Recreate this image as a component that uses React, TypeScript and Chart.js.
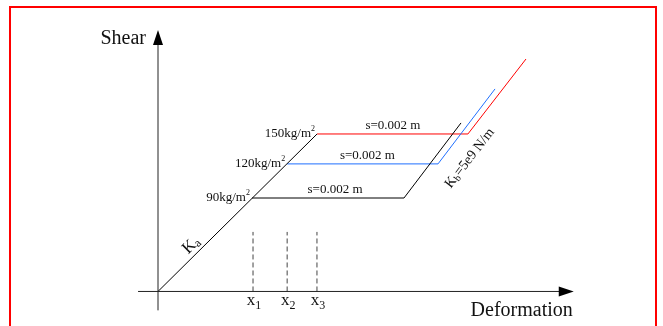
import React, { useEffect, useRef } from "react";
import { Chart, registerables } from "chart.js";

Chart.register(...registerables);

const FONT = '"Liberation Serif", "Times New Roman", serif';

// visible data window (same unit size on both axes)
const X_MIN = -150.5;
const X_MAX = 481;
const Y_MIN = -32.9;
const Y_MAX = 277.6;

// axes (start, arrow tip) in data units
const AXIS_X_EXTENT = [-19, 396];
const AXIS_Y_EXTENT = [-18, 249];
const AXIS_TITLES = ["Deformation", "Shear"];

// three surcharge cases
const SURCHARGE_VALUES = ["90", "120", "150"];
const SURCHARGE_UNIT = "kg/m";
const SERIES_COLORS = ["#000000", "#1f6fff", "#ff0000"];
const YIELD_X = [89.5, 123, 151.5];
const YIELD_Y = [89, 121.5, 150];
const SLIP_END_X = [234.3, 266.7, 295.2];
const RELOAD_END_X = [288.6, 321, 350.5];
const RELOAD_END_Y = [160.5, 192.9, 221.4];
const SLIP_LABELS = ["s=0.002 m", "s=0.002 m", "s=0.002 m"];
const SLIP_LABEL_X = [168.6, 199.5, 223.8];

// dashed markers on the deformation axis
const MARK_X = [90.5, 123, 151.4];
const MARK_TOP = 56.7;
const MARK_SUBS = ["1", "2", "3"];

const KA_LABEL_X = 38;
const KB_TEXT = "=5e9 N/m";

type Part = { t: string; size: number; dy: number };

function drawRich(
  ctx: CanvasRenderingContext2D,
  parts: Part[],
  x: number,
  y: number,
  align: "left" | "right" | "center"
) {
  ctx.textBaseline = "alphabetic";
  ctx.textAlign = "left";
  const widths = parts.map((p) => {
    ctx.font = `${p.size}px ${FONT}`;
    return ctx.measureText(p.t).width;
  });
  const total = widths.reduce((a, b) => a + b, 0);
  let cx = align === "left" ? x : align === "right" ? x - total : x - total / 2;
  parts.forEach((p, i) => {
    ctx.font = `${p.size}px ${FONT}`;
    ctx.fillText(p.t, cx, y + p.dy);
    cx += widths[i];
  });
}

const annotate = {
  id: "annotate",
  afterDatasetsDraw(chart: any) {
    const ctx: CanvasRenderingContext2D = chart.ctx;
    const xs = chart.scales.x;
    const ys = chart.scales.y;
    const px = (v: number) => xs.getPixelForValue(v);
    const py = (v: number) => ys.getPixelForValue(v);
    ctx.save();

    const ox = px(0);
    const oy = py(0);
    const tx = px(AXIS_X_EXTENT[1]);
    const ty = py(AXIS_Y_EXTENT[1]);

    // axes
    ctx.strokeStyle = "#222";
    ctx.lineWidth = 1;
    ctx.beginPath();
    ctx.moveTo(px(AXIS_X_EXTENT[0]), oy);
    ctx.lineTo(tx - 12, oy);
    ctx.moveTo(ox, py(AXIS_Y_EXTENT[0]));
    ctx.lineTo(ox, ty + 12);
    ctx.stroke();

    ctx.fillStyle = "#000";
    ctx.beginPath();
    ctx.moveTo(tx, oy);
    ctx.lineTo(tx - 15, oy - 5);
    ctx.lineTo(tx - 15, oy + 5);
    ctx.closePath();
    ctx.fill();
    ctx.beginPath();
    ctx.moveTo(ox, ty);
    ctx.lineTo(ox - 5, ty + 15);
    ctx.lineTo(ox + 5, ty + 15);
    ctx.closePath();
    ctx.fill();

    ctx.fillStyle = "#111";
    drawRich(ctx, [{ t: AXIS_TITLES[0], size: 20, dy: 0 }], tx - 1, oy + 25, "right");
    drawRich(ctx, [{ t: AXIS_TITLES[1], size: 20, dy: 0 }], ox - 12, ty + 14, "right");

    // surcharge labels
    SURCHARGE_VALUES.forEach((v, i) => {
      drawRich(
        ctx,
        [
          { t: v + SURCHARGE_UNIT, size: 13, dy: 0 },
          { t: "2", size: 8, dy: -6 },
        ],
        px(YIELD_X[i]) - 2,
        py(YIELD_Y[i]) + 3,
        "right"
      );
    });

    // slip labels
    SLIP_LABELS.forEach((s, i) => {
      drawRich(ctx, [{ t: s, size: 13, dy: 0 }], px(SLIP_LABEL_X[i]), py(YIELD_Y[i]) - 5, "center");
    });

    // x marks labels
    MARK_X.forEach((m, i) => {
      drawRich(
        ctx,
        [
          { t: "x", size: 17, dy: 0 },
          { t: MARK_SUBS[i], size: 12, dy: 4 },
        ],
        px(m) + 1,
        oy + 13.5,
        "center"
      );
    });

    // Ka label
    {
      const ax = px(KA_LABEL_X);
      const ay = py((KA_LABEL_X * YIELD_Y[2]) / YIELD_X[2]);
      const ang = Math.atan2(py(YIELD_Y[2]) - oy, px(YIELD_X[2]) - ox);
      ctx.save();
      ctx.translate(ax, ay);
      ctx.rotate(ang);
      drawRich(
        ctx,
        [
          { t: "K", size: 17, dy: 0 },
          { t: "a", size: 12, dy: 2 },
        ],
        0,
        -5,
        "center"
      );
      ctx.restore();
    }

    // Kb label, parallel to the reloading lines
    {
      const ax = px(SLIP_END_X[2]);
      const ay = py(YIELD_Y[2]);
      const ang = Math.atan2(py(RELOAD_END_Y[2]) - ay, px(RELOAD_END_X[2]) - ax);
      ctx.save();
      ctx.translate(ax, ay);
      ctx.rotate(ang);
      drawRich(
        ctx,
        [
          { t: "K", size: 14, dy: 0 },
          { t: "b", size: 10, dy: 2 },
          { t: KB_TEXT, size: 14, dy: 0 },
        ],
        -18,
        20,
        "center"
      );
      ctx.restore();
    }

    ctx.restore();
  },
};

export default function App() {
  const ref = useRef<HTMLCanvasElement | null>(null);

  useEffect(() => {
    if (!ref.current) return;
    const datasets: any[] = [];
    datasets.push({
      data: [
        { x: 0, y: 0 },
        { x: YIELD_X[2], y: YIELD_Y[2] },
      ],
      borderColor: "#000",
      borderWidth: 1,
    });
    SURCHARGE_VALUES.forEach((_, i) => {
      datasets.push({
        data: [
          { x: YIELD_X[i], y: YIELD_Y[i] },
          { x: SLIP_END_X[i], y: YIELD_Y[i] },
          { x: RELOAD_END_X[i], y: RELOAD_END_Y[i] },
        ],
        borderColor: SERIES_COLORS[i],
        borderWidth: 1,
      });
    });
    MARK_X.forEach((m) => {
      datasets.push({
        data: [
          { x: m, y: 0 },
          { x: m, y: MARK_TOP },
        ],
        borderColor: "#444",
        borderWidth: 1,
        borderDash: [5, 3],
      });
    });
    datasets.forEach((d) => {
      d.showLine = true;
      d.pointRadius = 0;
      d.pointHoverRadius = 0;
      d.fill = false;
      d.tension = 0;
    });

    const chart = new Chart(ref.current, {
      type: "scatter",
      data: { datasets },
      options: {
        animation: false,
        responsive: false,
        devicePixelRatio: 1,
        layout: { padding: 0 },
        plugins: { legend: { display: false }, tooltip: { enabled: false } },
        scales: {
          x: { type: "linear", min: X_MIN, max: X_MAX, display: false },
          y: { type: "linear", min: Y_MIN, max: Y_MAX, display: false },
        },
      },
      plugins: [annotate],
    });
    return () => chart.destroy();
  }, []);

  return (
    <div
      style={{
        position: "fixed",
        left: 0,
        top: 0,
        width: 663,
        height: 326,
        overflow: "hidden",
        background: "#fff",
      }}
    >
      <canvas ref={ref} width={663} height={326} style={{ position: "absolute", left: 0, top: 0 }} />
      <div
        style={{
          position: "absolute",
          left: 9,
          top: 6,
          width: 648,
          height: 400,
          boxSizing: "border-box",
          border: "2px solid #ff0000",
          borderBottom: "none",
          pointerEvents: "none",
        }}
      />
    </div>
  );
}
